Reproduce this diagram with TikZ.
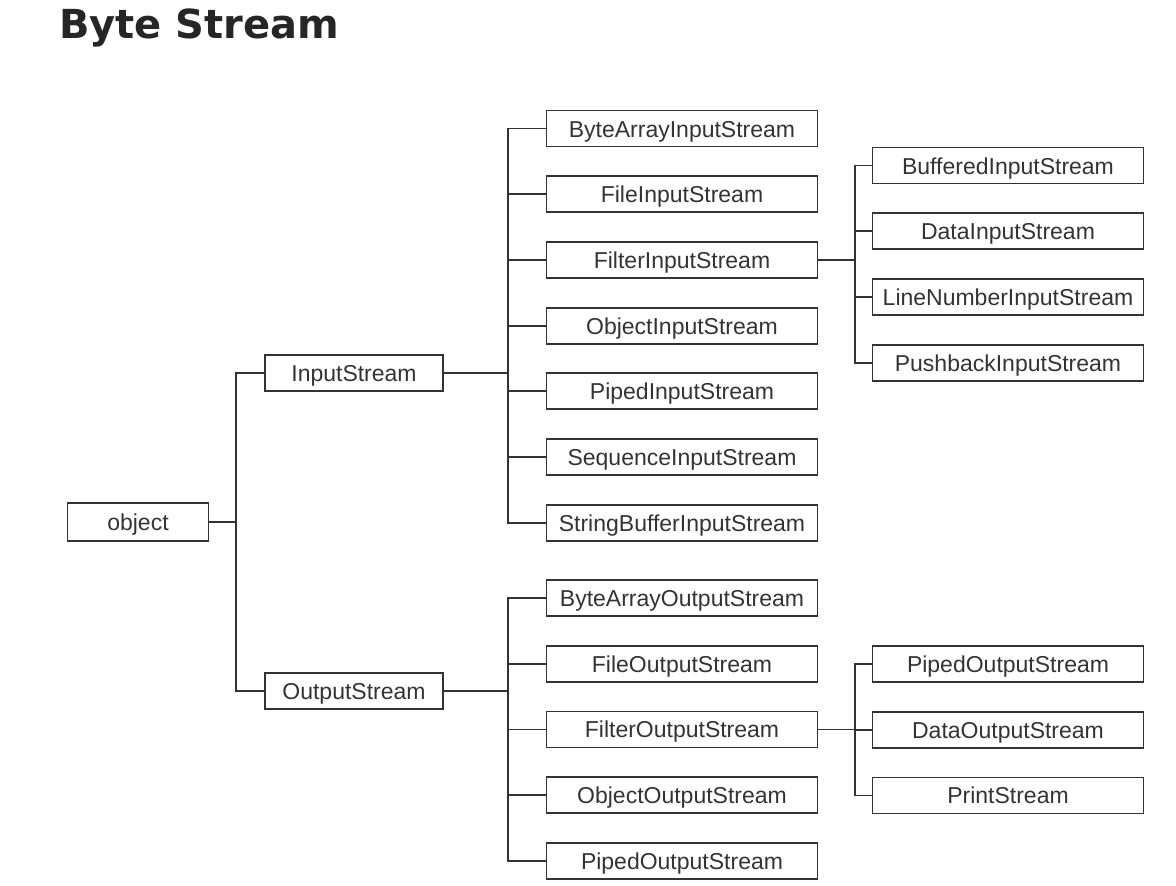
\documentclass[tikz,border=0pt]{standalone}
\usepackage{fontspec}
\setmainfont{Liberation Sans}
\newfontfamily\headfont{DejaVu Sans}
\begin{document}
\begin{tikzpicture}[x=1pt,y=-1pt,
  box/.style={draw=black!80,line width=1.8pt,inner sep=0pt,minimum height=36pt,text height=17pt,text depth=0pt,text=black!80,font=\fontsize{23}{23}\selectfont},
  link/.style={draw=black!80,line width=1.8pt}]
\useasboundingbox (0,0) rectangle (1176,886);
\node[anchor=base west,inner sep=0pt,text=black!85,font=\headfont\bfseries\fontsize{40}{40}\selectfont] (title) at (59,38) {Byte Stream};
\node[box,minimum width=141pt,minimum height=38pt] (obj) at (138,522) {object};
\node[box,minimum width=178pt] (is) at (354,373) {InputStream};
\node[box,minimum width=178pt] (os) at (354,691) {OutputStream};
\foreach \n [count=\i] in {ByteArrayInputStream,FileInputStream,FilterInputStream,ObjectInputStream,PipedInputStream,SequenceInputStream,StringBufferInputStream}
\node[box,minimum width=271pt] (in\i) at (682,{128.5+65.7*(\i-1)}) {\n};
\foreach \n [count=\i] in {ByteArrayOutputStream,FileOutputStream,FilterOutputStream,ObjectOutputStream,PipedOutputStream}
\node[box,minimum width=271pt] (out\i) at (682,{598+65.7*(\i-1)}) {\n};
\foreach \n [count=\i] in {BufferedInputStream,DataInputStream,LineNumberInputStream,PushbackInputStream}
\node[box,minimum width=271pt] (fin\i) at (1008,{165.5+65.7*(\i-1)}) {\n};
\foreach \n [count=\i] in {PipedOutputStream,DataOutputStream,PrintStream}
\node[box,minimum width=271pt] (fout\i) at (1008,{664+65.7*(\i-1)}) {\n};
\coordinate (ob) at (236,522);
\coordinate (ib) at (508,373);
\coordinate (obb) at (508,691);
\coordinate (fib) at (855,260);
\coordinate (fob) at (855,730);
\draw[link] (obj.east) -- (ob) (ob) |- (is.west) (ob) |- (os.west);
\draw[link] (is.east) -- (ib);
\foreach \i in {1,...,7}
\draw[link] (ib) |- (in\i.west);
\draw[link] (os.east) -- (obb);
\foreach \i in {1,...,5}
\draw[link] (obb) |- (out\i.west);
\draw[link] (in3.east) -- (fib |- in3.east);
\foreach \i in {1,...,4}
\draw[link] (fib |- in3.east) |- (fin\i.west);
\draw[link] (out3.east) -- (fob |- out3.east);
\foreach \i in {1,...,3}
\draw[link] (fob |- out3.east) |- (fout\i.west);
\end{tikzpicture}
\end{document}
